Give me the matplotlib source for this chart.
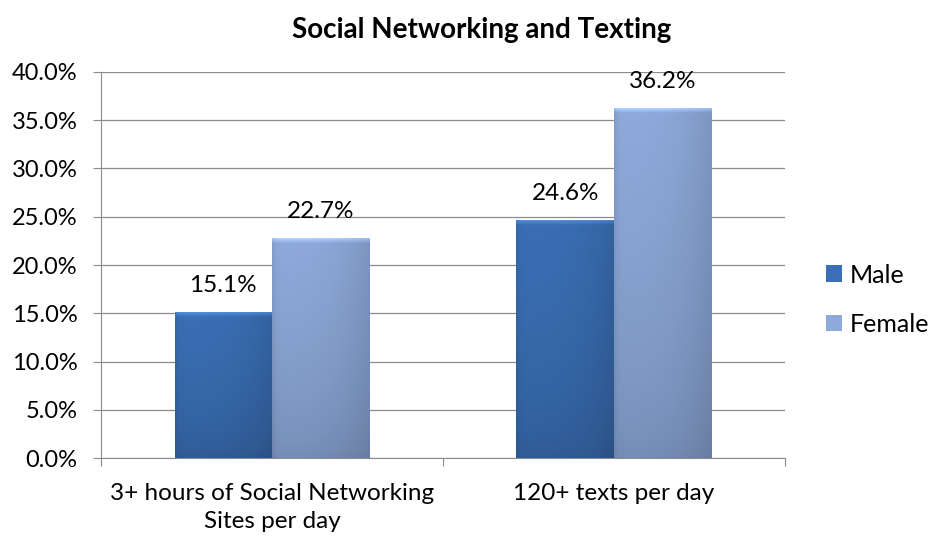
import numpy as np
import matplotlib
matplotlib.use("Agg")
import matplotlib.pyplot as plt
from matplotlib.patches import Patch
from matplotlib.colors import to_rgb
from matplotlib.ticker import MultipleLocator, FuncFormatter

categories = ["3+ hours of Social Networking\nSites per day", "120+ texts per day"]
series_names = ["Male", "Female"]
male = [15.1, 24.6]
female = [22.7, 36.2]
series_values = [male, female]
series_colors = ["#3a6fb5", "#8eaadb"]

plt.rcParams["font.family"] = ["Lato", "DejaVu Sans"]

fig = plt.figure(figsize=(9.31, 5.37), dpi=100)
ax = fig.add_axes([0.1085, 0.147, 0.7345, 0.719])

bar_w = 0.285
x = np.arange(len(categories))
offsets = [-bar_w / 2, bar_w / 2]


def shaded_bar(ax, x0, width, height, color):
    """Draw a bar filled with a soft bevelled gradient."""
    base = np.array(to_rgb(color))
    ny, nx = 400, 80
    u = np.linspace(0, 1, nx)
    v = np.linspace(0, 1, ny)[:, None]  # 0 = bottom, 1 = top
    # horizontal shading: darker towards the right edge, slight dip at left
    h = 1.0 - 0.12 * u ** 3 - 0.08 * np.exp(-u / 0.03)
    # vertical shading: darker near the bottom
    vert = 0.82 + 0.18 * np.clip(v, 0, 1) ** 0.6
    fac = h[None, :] * vert
    img = np.clip(base[None, None, :] * fac[..., None], 0, 1)
    # thin light bevel along the top edge (about 0.5 data units tall)
    top_px = max(2, int(round(ny * 0.55 / height)))
    ramp = np.linspace(0.0, 1.0, top_px)[:, None, None]
    img[-top_px:, :, :] = np.clip(img[-top_px:, :, :] * (1 + 0.15 * ramp) + 0.06 * ramp, 0, 1)
    ax.imshow(img, extent=[x0, x0 + width, 0, height], origin="lower",
              aspect="auto", zorder=3, interpolation="bilinear")


for vals, off, col in zip(series_values, offsets, series_colors):
    for xi, val in zip(x, vals):
        left = xi + off - bar_w / 2
        shaded_bar(ax, left, bar_w, val, col)
        ax.text(xi + off, val + 2.8, f"{val:.1f}%", ha="center", va="center",
                fontsize=17.5, color="#000000", zorder=4)

ax.set_xlim(-0.5, 1.5)
ax.set_ylim(0, 40)
ax.yaxis.set_major_locator(MultipleLocator(5))
ax.yaxis.set_major_formatter(FuncFormatter(lambda v, p: f"{v:.1f}%"))
ax.grid(axis="y", color="#8c8c8c", linewidth=0.9, zorder=0)
ax.set_axisbelow(True)

ax.set_xticks([-0.5, 0.5, 1.5], minor=False)
ax.set_xticklabels([])
ax.set_xticks(x, minor=True)
ax.set_xticklabels(categories, minor=True, fontsize=17.5, linespacing=1.4)
ax.tick_params(axis="x", which="minor", length=0, pad=18)
ax.tick_params(axis="x", which="major", length=6, color="#8c8c8c")
ax.tick_params(axis="y", length=6, color="#8c8c8c", labelsize=17, pad=11)

for side in ["top", "right"]:
    ax.spines[side].set_visible(False)
for side in ["left", "bottom"]:
    ax.spines[side].set_color("#8c8c8c")

fig.text(0.517, 0.944, "Social Networking and Texting", fontsize=20,
         fontweight="bold", ha="center", va="center")

handles = [Patch(facecolor=c, edgecolor="none") for c in series_colors]
fig.legend(handles, series_names, loc="center left", bbox_to_anchor=(0.887, 0.442),
           frameon=False, fontsize=18, handlelength=0.65, handleheight=0.65,
           handletextpad=0.3, labelspacing=1.05, borderpad=0, borderaxespad=0)

fig.savefig("out.png", dpi=100)
